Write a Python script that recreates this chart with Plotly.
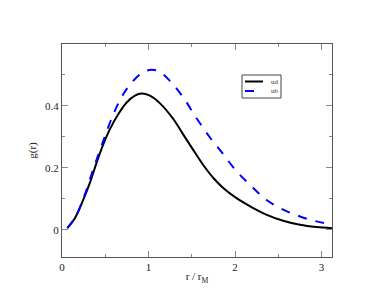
import plotly.graph_objects as go

ud_x = [0.061, 0.15, 0.246, 0.323, 0.40, 0.477, 0.554, 0.65, 0.747, 0.843, 0.92, 1.016, 1.13, 1.285, 1.40, 1.516, 1.63, 1.747, 1.863, 2.017, 2.21, 2.36, 2.555, 2.75, 2.94, 3.12]
ud_y = [0.0055, 0.038, 0.097, 0.152, 0.217, 0.276, 0.325, 0.373, 0.411, 0.433, 0.44, 0.433, 0.409, 0.358, 0.308, 0.258, 0.210, 0.168, 0.135, 0.102, 0.070, 0.049, 0.029, 0.016, 0.0088, 0.005]

ub_x = [0.061, 0.15, 0.246, 0.361, 0.477, 0.593, 0.708, 0.823, 0.939, 1.035, 1.13, 1.247, 1.40, 1.555, 1.71, 1.863, 2.017, 2.21, 2.36, 2.555, 2.75, 2.94, 3.12]
ub_y = [0.0055, 0.038, 0.10, 0.195, 0.287, 0.373, 0.438, 0.481, 0.509, 0.517, 0.51, 0.481, 0.428, 0.36, 0.298, 0.244, 0.189, 0.135, 0.097, 0.065, 0.043, 0.027, 0.018]

series_names = ["ud", "ub"]
x_ticks = [0, 1, 2, 3]
y_ticks = [0, 0.2, 0.4]

font = "Liberation Serif"
colors = ["black", "#0000ff"]
dashes = ["solid", "dash"]

fig = go.Figure()
for xs, ys, nm, c, d in [(ud_x, ud_y, series_names[0], colors[0], dashes[0]),
                         (ub_x, ub_y, series_names[1], colors[1], dashes[1])]:
    fig.add_trace(go.Scatter(x=xs, y=ys, name=nm, mode="lines", showlegend=False,
                             line=dict(color=c, width=2, dash=d, shape="spline", smoothing=1.0)))

axis_common = dict(showgrid=False, zeroline=False, showline=True, linecolor="#555555", linewidth=1,
                   mirror="ticks", ticks="inside", ticklen=6, tickcolor="#888888", tickwidth=1,
                   tickfont=dict(family=font, size=11, color="#222222"))

fig.update_xaxes(range=[0, 3.12], tickvals=x_ticks, ticktext=[str(v) for v in x_ticks],
                 minor=dict(tickvals=[0.5, 1.5, 2.5], ticks="inside", ticklen=3, tickcolor="#888888"),
                 title=dict(text="r / r<sub>M</sub>", font=dict(family=font, size=11, color="#222222"), standoff=0),
                 **axis_common)
fig.update_yaxes(range=[-0.088, 0.6], tickvals=y_ticks, ticktext=["0", "0.2", "0.4"],
                 minor=dict(tickvals=[0.1, 0.3, 0.5], ticks="inside", ticklen=3, tickcolor="#888888"),
                 title=dict(text="g(r)", font=dict(family=font, size=11, color="#222222"), standoff=6),
                 **axis_common)

# custom compact legend (paper coordinates; plot area 270 x 213 px)
def px(v):
    return (v - 62) / 270.0

def py(v):
    return (257 - v) / 213.0

shapes = [dict(type="rect", xref="paper", yref="paper", x0=px(242), x1=px(281), y0=py(98), y1=py(75),
               line=dict(color="#444444", width=1), fillcolor="white", layer="above")]
annotations = []
for i, (nm, c, d) in enumerate(zip(series_names, colors, dashes)):
    yy = 81.5 + i * 9.5
    shapes.append(dict(type="line", xref="paper", yref="paper", x0=px(245), x1=px(263), y0=py(yy), y1=py(yy),
                       line=dict(color=c, width=2, dash=d), layer="above"))
    annotations.append(dict(xref="paper", yref="paper", x=px(269), y=py(yy), text=nm, showarrow=False,
                            xanchor="left", yanchor="middle",
                            font=dict(family=font, size=7, color="#333333")))

fig.update_layout(width=375, height=286, margin=dict(l=54, r=51, t=36, b=37, autoexpand=False),
                  plot_bgcolor="white", paper_bgcolor="white",
                  shapes=shapes, annotations=annotations, showlegend=False)

fig.write_html("out.html")
